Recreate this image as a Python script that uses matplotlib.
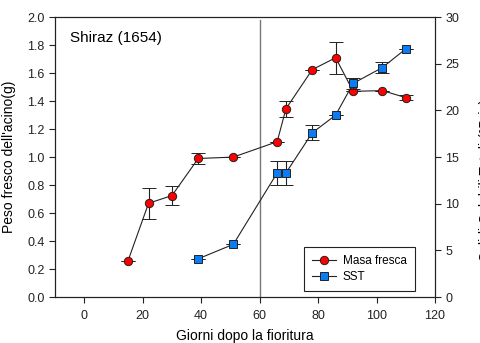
import numpy as np
import matplotlib.pyplot as plt
from matplotlib.lines import Line2D

plt.rcParams['font.family'] = ['Liberation Sans', 'DejaVu Sans']

# Masa fresca (g)
days_mf = [15, 22, 30, 39, 51, 66, 69, 78, 86, 92, 102, 110]
mf = [0.26, 0.67, 0.725, 0.99, 1.0, 1.11, 1.345, 1.625, 1.71, 1.47, 1.475, 1.425]
mf_err = [0.0, 0.11, 0.065, 0.04, 0.0, 0.0, 0.055, 0.0, 0.115, 0.0, 0.0, 0.02]

# SST (Brix)
days_sst = [39, 51, 66, 69, 78, 86, 92, 102, 110]
sst = [4.1, 5.65, 13.3, 13.3, 17.6, 19.5, 22.9, 24.6, 26.6]
sst_err = [0.0, 0.0, 1.25, 1.25, 0.8, 0.0, 0.6, 0.6, 0.0]

red = '#ff0000'
blue = '#0a7cf5'
dark = '#222222'

fig = plt.figure(figsize=(4.8, 3.43), dpi=100)
ax = fig.add_axes([0.1146, 0.134, 0.7917, 0.816])
ax2 = ax.twinx()

ax.axvline(60, ymax=0.99, color='#777777', lw=1.0, zorder=1)

ax.errorbar(days_mf, mf, yerr=mf_err, color=dark, lw=0.8, capsize=5,
            elinewidth=0.8, marker='o', ms=6, mfc=red, mec=dark,
            mew=0.7, zorder=3)
ax2.errorbar(days_sst, sst, yerr=sst_err, color=dark, lw=0.8, capsize=5,
             elinewidth=0.8, marker='s', ms=6, mfc=blue, mec=dark,
             mew=0.7, zorder=3)

ax.set_xlim(-10, 120)
ax.set_ylim(0, 2.0)
ax2.set_ylim(0, 30)
ax.set_xticks([0, 20, 40, 60, 80, 100, 120])
ax.set_yticks(np.arange(0, 2.01, 0.2))
ax.set_yticklabels([f'{v:.1f}' for v in np.arange(0, 2.01, 0.2)])
ax2.set_yticks([0, 5, 10, 15, 20, 25, 30])

for a in (ax, ax2):
    a.tick_params(direction='out', length=4, width=0.8, labelsize=9, colors=dark)
    for s in a.spines.values():
        s.set_color(dark)
        s.set_linewidth(0.8)
ax.tick_params(axis='x', pad=5)

ax.set_xlabel('Giorni dopo la fioritura', fontsize=10, labelpad=6)
ax.set_ylabel("Peso fresco dell'acino(g)", fontsize=10, labelpad=8)
ax2.set_ylabel('Solidi Solubili Totali (°Brix)', fontsize=10)
ax2.yaxis.set_label_coords(1.115, 0.42)
ax.xaxis.set_label_coords(0.5, -0.115)

ax.text(0.04, 0.927, 'Shiraz (1654)', transform=ax.transAxes, fontsize=11,
        va='center', ha='left')

h1 = Line2D([], [], color=dark, lw=0.8, marker='o', ms=6, mfc=red, mec=dark, mew=0.7)
h2 = Line2D([], [], color=dark, lw=0.8, marker='s', ms=6, mfc=blue, mec=dark, mew=0.7)
leg = ax.legend([h1, h2], ['Masa fresca', 'SST'], loc='lower right',
                bbox_to_anchor=(0.947, 0.021), borderaxespad=0, fontsize=8.5,
                fancybox=False, edgecolor=dark, framealpha=1, handlelength=2.0,
                borderpad=0.7, labelspacing=0.35, handletextpad=0.6)
leg.get_frame().set_linewidth(0.8)

fig.savefig('out.png', dpi=100)
